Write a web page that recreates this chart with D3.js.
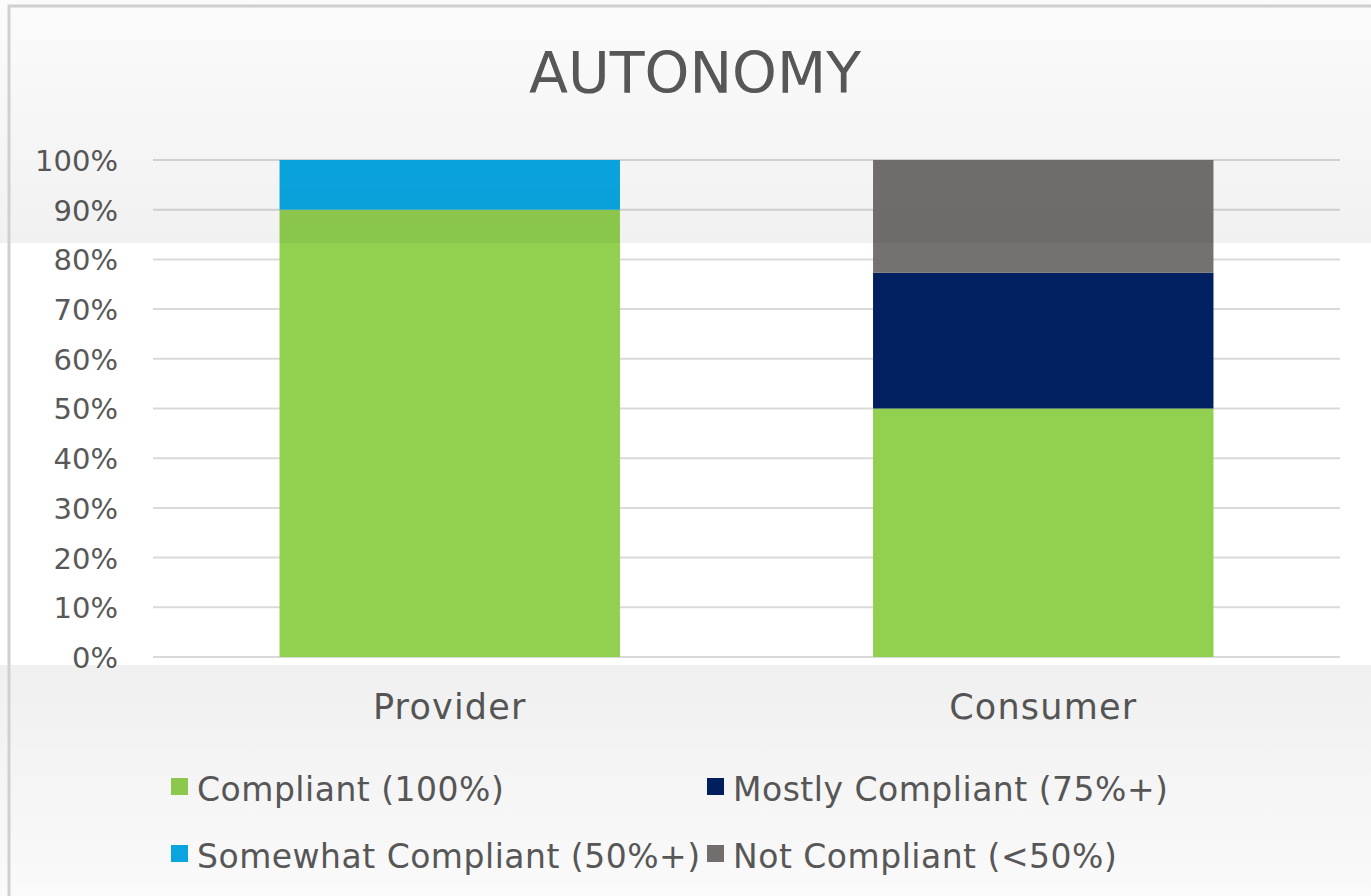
<!DOCTYPE html>
<html>
<head>
<meta charset="utf-8">
<script src="https://cdn.jsdelivr.net/npm/d3@7"></script>
<style>
  body { margin: 0; background: #fff; }
  svg { display: block; }
</style>
</head>
<body>
<svg class="chart" width="1371" height="896"></svg>
<script>
const categories = ["Provider", "Consumer"]
const seriesNames = ["Compliant (100%)", "Mostly Compliant (75%+)", "Somewhat Compliant (50%+)", "Not Compliant (<50%)"]
const compliant = [90, 50]
const mostly = [0, 27.3]
const somewhat = [10, 0]
const notCompliant = [0, 22.7]
const yTicks = [0, 10, 20, 30, 40, 50, 60, 70, 80, 90, 100]

const colors = ["#92d050", "#002060", "#0aa9e6", "#767171"]
const seriesValues = [compliant, mostly, somewhat, notCompliant]

const rows = categories.map((c, i) => {
  const r = {cat: c}
  seriesNames.forEach((s, k) => r[s] = seriesValues[k][i])
  return r
})
const stacked = d3.stack().keys(seriesNames)(rows)

const svg = d3.select('.chart')
const font = "Verdana, 'DejaVu Sans', sans-serif"
const textCol = "#595959"

const x = d3.scaleBand(categories, [153, 1340]).paddingInner(0.4264).paddingOuter(0.2132)
const y = d3.scaleLinear([0, 100], [657, 160])

// gridlines
svg.append('g')
  .selectAll('line')
  .data(yTicks)
  .join('line')
  .attr('x1', 153).attr('x2', 1340)
  .attr('y1', d => y(d)).attr('y2', d => y(d))
  .attr('stroke', '#d9d9d9')
  .attr('stroke-width', 2)

// bars
svg.append('g')
  .selectAll('g')
  .data(stacked)
  .join('g')
  .attr('fill', d => colors[seriesNames.indexOf(d.key)])
  .selectAll('rect')
  .data(d => d)
  .join('rect')
  .attr('x', d => x(d.data.cat))
  .attr('width', x.bandwidth())
  .attr('y', d => y(d[1]))
  .attr('height', d => y(d[0]) - y(d[1]))

// y axis
const yAxis = d3.axisLeft(y).tickValues(yTicks).tickFormat(d => d + '%').tickSize(0).tickPadding(0)
const yg = svg.append('g').attr('transform', 'translate(118,0)').call(yAxis)
yg.select('.domain').remove()
yg.selectAll('text')
  .attr('font-family', font).attr('font-size', 29).attr('fill', textCol)
  .attr('dy', '0.36em')

// x axis
const xAxis = d3.axisBottom(x).tickSize(0).tickPadding(0)
const xg = svg.append('g').attr('transform', 'translate(0,719)').call(xAxis)
xg.select('.domain').remove()
xg.selectAll('text')
  .attr('font-family', font).attr('font-size', 35).attr('fill', textCol)
  .attr('letter-spacing', 1.2)
  .attr('dy', 0)

// title
svg.append('text')
  .text('AUTONOMY')
  .attr('x', 695).attr('y', 93)
  .attr('text-anchor', 'middle')
  .attr('font-family', font).attr('font-size', 57)
  .attr('fill', textCol)

// legend
const legendPos = [[171, 801], [707, 801], [171, 868], [707, 868]]
const leg = svg.append('g')
  .selectAll('g')
  .data(seriesNames)
  .join('g')
  .attr('transform', (d, i) => `translate(${legendPos[i][0]},${legendPos[i][1]})`)
leg.append('rect')
  .attr('x', 0).attr('y', -23).attr('width', 17).attr('height', 17)
  .attr('fill', (d, i) => colors[i])
leg.append('text')
  .text(d => d)
  .attr('x', 26).attr('y', 0)
  .attr('font-family', font).attr('font-size', 33).attr('fill', textCol)
  .attr('letter-spacing', 0.5)

// screenshot-style shading bands
const defs = svg.append('defs')
const g1 = defs.append('linearGradient').attr('id', 'topShade').attr('x1', 0).attr('y1', 0).attr('x2', 0).attr('y2', 1)
g1.append('stop').attr('offset', 0).attr('stop-color', '#000').attr('stop-opacity', 0.015)
g1.append('stop').attr('offset', 1).attr('stop-color', '#000').attr('stop-opacity', 0.055)
const g2 = defs.append('linearGradient').attr('id', 'botShade').attr('x1', 0).attr('y1', 0).attr('x2', 0).attr('y2', 1)
g2.append('stop').attr('offset', 0).attr('stop-color', '#000').attr('stop-opacity', 0.06)
g2.append('stop').attr('offset', 1).attr('stop-color', '#000').attr('stop-opacity', 0.02)
svg.append('rect').attr('x', 0).attr('y', 0).attr('width', 1371).attr('height', 243).attr('fill', 'url(#topShade)')
svg.append('rect').attr('x', 0).attr('y', 665).attr('width', 1371).attr('height', 231).attr('fill', 'url(#botShade)')

// frame
svg.append('rect')
  .attr('x', 9).attr('y', 6).attr('width', 1380).attr('height', 900)
  .attr('fill', 'none').attr('stroke', '#d0d0d0').attr('stroke-width', 3)
</script>
</body>
</html>
